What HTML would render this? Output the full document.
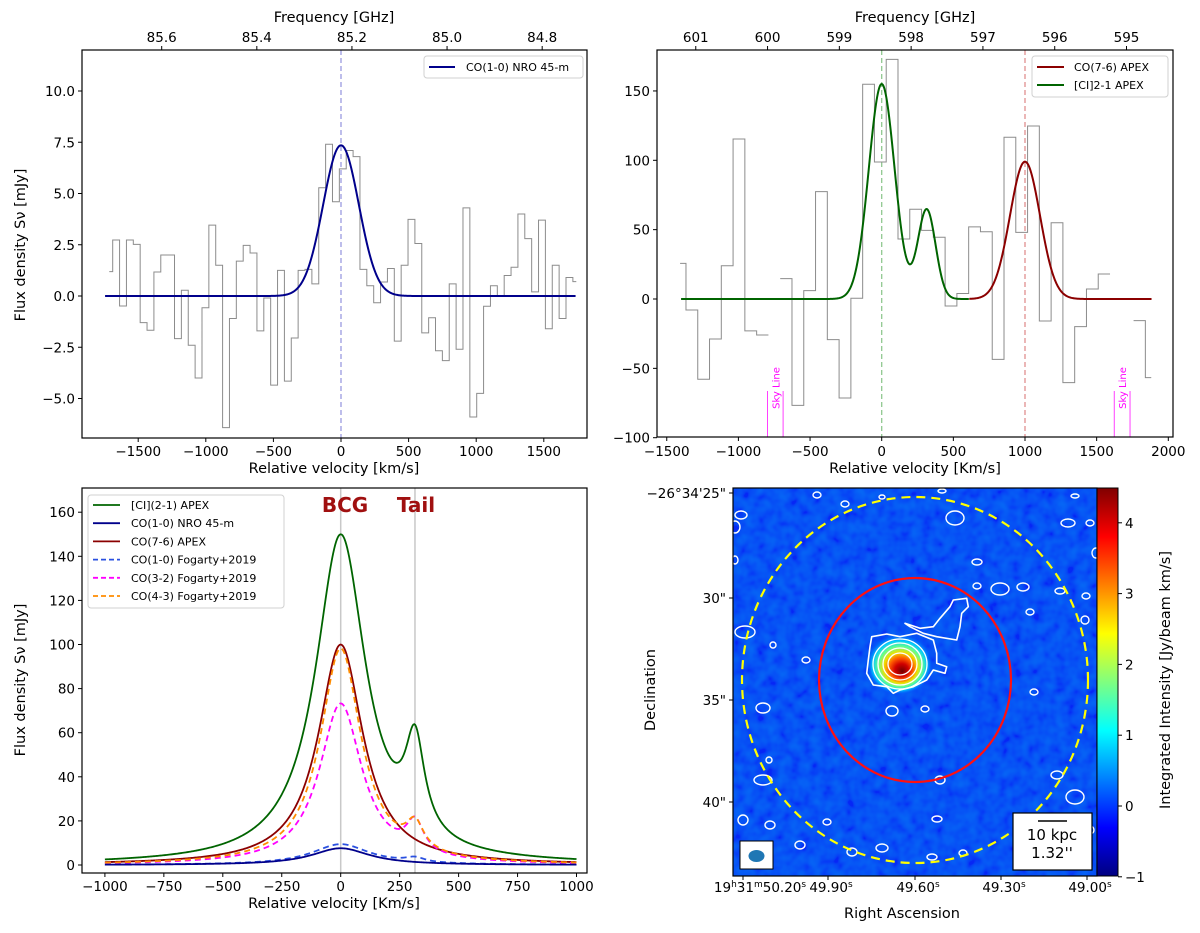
<!DOCTYPE html>
<html><head><meta charset="utf-8"><style>
html,body{margin:0;padding:0;background:#fff;}
svg{display:block;font-family:"DejaVu Sans","Liberation Sans",sans-serif;}
</style></head><body>
<svg id="fig" width="1200" height="933" viewBox="0 0 1200 933" xmlns="http://www.w3.org/2000/svg">
<defs>
<linearGradient id="jet" x1="0" y1="1" x2="0" y2="0">
<stop offset="0" stop-color="#000080"/><stop offset="0.125" stop-color="#0000ff"/><stop offset="0.375" stop-color="#00ffff"/><stop offset="0.625" stop-color="#ffff00"/><stop offset="0.875" stop-color="#ff0000"/><stop offset="1" stop-color="#800000"/>
</linearGradient>
<radialGradient id="blob" cx="0.5" cy="0.5" r="0.5" fx="0.55" fy="0.62">
<stop offset="0" stop-color="#700000"/><stop offset="0.2" stop-color="#d00000"/><stop offset="0.35" stop-color="#ff5a00"/><stop offset="0.5" stop-color="#f0e000"/><stop offset="0.65" stop-color="#60ff90"/><stop offset="0.8" stop-color="#00c8ff"/><stop offset="1" stop-color="#0038ff" stop-opacity="0"/>
</radialGradient>
<filter id="noise" x="0" y="0" width="100%" height="100%">
<feTurbulence type="fractalNoise" baseFrequency="0.09" numOctaves="2" seed="4"/>
<feColorMatrix type="matrix" values="0 0 0 0 0  0.7 0 0 0 -0.15  0 0 0 0 0.92  0 0 0 0 0.35"/>
</filter>
<clipPath id="mapclip"><rect x="733" y="488" width="364" height="388"/></clipPath>
</defs>
</svg>
<script>
// ---------- DATA ----------
// Panel A: CO(1-0) NRO 45-m spectrum (channels from -1714 km/s, step 50.8 km/s)
const specA_start = -1714;
const specA_step = 50.8;
const specA_flux = [1.19,2.73,-0.49,2.73,2.52,-1.3,-1.67,1.17,2.0,2.0,-2.08,0.28,-2.4,-4.0,-0.57,3.46,1.5,-6.42,-1.1,1.7,2.47,2.1,-1.7,-0.1,-4.35,1.25,-4.15,-2.05,1.25,1.3,0.59,5.28,7.4,4.6,6.2,7.1,6.8,1.3,0.5,-0.33,0.68,1.34,-2.2,1.5,3.74,2.56,-1.8,-1.06,-2.67,-3.15,0.59,-2.6,4.3,-5.9,-4.75,-0.5,0.5,0,1.0,1.4,4.0,2.8,0.2,3.7,-1.6,1.5,-1.1,0.9,0.7];
const fitA_amp = [7.35];
const fitA_cen = [0];
const fitA_sig = [132];
const tickA_x = [-1500,-1000,-500,0,500,1000,1500];
const tickA_y = [-5.0,-2.5,0.0,2.5,5.0,7.5,10.0];
const tickA_f = [85.6,85.4,85.2,85.0,84.8];

// Panel B: APEX spectrum (channels from -1407 km/s, step 82.2 km/s), null = masked sky line
const specB_start = -1407;
const specB_step = 82.2;
const specB_flux = [25.7,-7.9,-57.9,-28.8,24,115.4,-23,-26,null,14.7,-76.7,6,77.4,-29.3,-71.4,0.5,154.8,98.8,172.8,43.3,64.7,49.5,44.5,-5,4,52,48.5,-43.5,116.6,48,124.7,-15.9,55,-60.3,-19.9,7.2,18,null,null,-15.6,-56.7];
const fitCI_amp = [155, 64.5];
const fitCI_cen = [0, 314];
const fitCI_sig = [90, 62];
const fitCO76_amp = [99];
const fitCO76_cen = [1000];
const fitCO76_sig = [105];
const skyLines = [[-797,-688],[1623,1733]];
const tickB_x = [-1500,-1000,-500,0,500,1000,1500,2000];
const tickB_y = [-100,-50,0,50,100,150];
const tickB_f = [601,600,599,598,597,596,595];

// Panel C: line-profile models (Lorentzian components: amplitude, centre, half-width)
const modCI_amp = [149, 42]; const modCI_cen = [0, 315]; const modCI_w = [130, 49];
const modCO10_amp = [7.6]; const modCO10_cen = [0]; const modCO10_w = [150];
const modCO76_amp = [100]; const modCO76_cen = [0]; const modCO76_w = [115];
const modF10_amp = [9.4, 2.1]; const modF10_cen = [0, 315]; const modF10_w = [150, 50];
const modF32_amp = [73, 14]; const modF32_cen = [0, 315]; const modF32_w = [110, 45];
const modF43_amp = [98, 12]; const modF43_cen = [0, 315]; const modF43_w = [105, 45];
const tickC_x = [-1000,-750,-500,-250,0,250,500,750,1000];
const tickC_y = [0,20,40,60,80,100,120,140,160];

// Panel D: colorbar
const tickD_cb = [-1,0,1,2,3,4];

// ---------- HELPERS ----------
const svg = document.getElementById('fig');
const NS = 'http://www.w3.org/2000/svg';
function mk(tag, attrs, parent) {
  const e = document.createElementNS(NS, tag);
  for (const k in attrs) e.setAttribute(k, attrs[k]);
  (parent || svg).appendChild(e);
  return e;
}
function txt(s, attrs, parent) { const e = mk('text', attrs, parent); e.textContent = s; return e; }
function gauss(v, A, C, S) { let y = 0; for (let i = 0; i < A.length; i++) y += A[i] * Math.exp(-0.5 * ((v - C[i]) / S[i]) ** 2); return y; }
function lor(v, A, C, W) { let y = 0; for (let i = 0; i < A.length; i++) y += A[i] / (1 + ((v - C[i]) / W[i]) ** 2); return y; }
function curve(fn, v0, v1, X, Y) { let d = ''; for (let v = v0; v <= v1 + 0.01; v += 4) d += (d ? 'L' : 'M') + X(v).toFixed(2) + ',' + Y(fn(v)).toFixed(2); return d; }
function steps(start, step, vals, X, Y) {
  let d = ''; let pen = false; const n = vals.length;
  for (let i = 0; i < n; i++) {
    const v = vals[i];
    if (v === null) { pen = false; continue; }
    const c = start + i * step;
    const a = i === 0 ? c : c - step / 2;
    const b = i === n - 1 ? c : c + step / 2;
    d += (pen ? 'L' : 'M') + X(a).toFixed(2) + ',' + Y(v).toFixed(2) + 'L' + X(b).toFixed(2) + ',' + Y(v).toFixed(2);
    pen = true;
  }
  return d;
}
const FS = 13.5;

// ---------- PANEL A ----------
{
  const X = v => 341 + v * 0.1352, Y = s => 296 - s * 20.5;
  const L = 82, R = 587, T = 50, B = 438;
  const g = mk('g', {});
  
  
  const dl = mk('line', {x1: X(0), x2: X(0), y1: T, y2: B, stroke: '#9a9ae0', 'stroke-width': 1.3, 'stroke-dasharray': '5,3'}, g);
  
  
  const sp = mk('path', {d: steps(specA_start, specA_step, specA_flux, X, Y), fill: 'none', stroke: '#8c8c8c', 'stroke-width': 1}, g);
  
  
  const fc = mk('path', {d: curve(v => gauss(v, fitA_amp, fitA_cen, fitA_sig), -1745, 1736, X, Y), fill: 'none', stroke: '#00008b', 'stroke-width': 2}, g);
  
  
  const box = mk('rect', {x: L, y: T, width: R - L, height: B - T, fill: 'none', stroke: '#000', 'stroke-width': 1.2}, g);
  
  
  for (const t of tickA_x) {
    const tk = mk('line', {x1: X(t), x2: X(t), y1: B, y2: B + 4, stroke: '#000'}, g);
    
    
    const tl = txt(String(t).replace('-', '−'), {x: X(t), y: B + 18, 'font-size': FS, 'text-anchor': 'middle'}, g);
    
    
  }
  for (const t of tickA_y) {
    const tk = mk('line', {x1: L - 4, x2: L, y1: Y(t), y2: Y(t), stroke: '#000'}, g);
    
    
    const tl = txt(t.toFixed(1).replace('-', '−'), {x: L - 7, y: Y(t) + 5, 'font-size': FS, 'text-anchor': 'end'}, g);
    
    
  }
  const f0 = 85.223, c = 299792.458;
  for (const f of tickA_f) {
    const v = c * (f0 - f) / f0;
    const tk = mk('line', {x1: X(v), x2: X(v), y1: T - 4, y2: T, stroke: '#000'}, g);
    
    
    const tl = txt(f.toFixed(1), {x: X(v), y: T - 8, 'font-size': FS, 'text-anchor': 'middle'}, g);
    
    
  }
  const xt = txt('Relative velocity [km/s]', {x: 334, y: 473, 'font-size': 14.5, 'text-anchor': 'middle'}, g);
  
  
  const ft = txt('Frequency [GHz]', {x: 334, y: 22, 'font-size': 14.5, 'text-anchor': 'middle'}, g);
  
  
  const yt = txt('Flux density S\u03BD [mJy]', {x: 0, y: 0, 'font-size': 14.5, 'text-anchor': 'middle', transform: 'translate(25,245) rotate(-90)'}, g);
  
  
  const lg = mk('rect', {x: 424, y: 56, width: 159, height: 22, rx: 3, fill: '#fff', stroke: '#d0d0d0'}, g);
  
  
  const ll = mk('line', {x1: 429, x2: 455, y1: 67, y2: 67, stroke: '#00008b', 'stroke-width': 2}, g);
  
  
  const lt = txt('CO(1-0) NRO 45-m', {x: 466, y: 71, 'font-size': 11}, g);
  
  
}

// ---------- PANEL B ----------
{
  const X = v => 881.7 + v * 0.1433, Y = s => 299 - s * 1.387;
  const L = 657, R = 1173, T = 50, B = 437;
  const g = mk('g', {});
  
  
  const d1 = mk('line', {x1: X(0), x2: X(0), y1: T, y2: B, stroke: '#90c890', 'stroke-width': 1.3, 'stroke-dasharray': '5,3'}, g);
  
  
  const d2 = mk('line', {x1: X(1000), x2: X(1000), y1: T, y2: B, stroke: '#e09090', 'stroke-width': 1.3, 'stroke-dasharray': '5,3'}, g);
  
  
  for (const s of skyLines) {
    for (const v of s) {
      const sl = mk('line', {x1: X(v), x2: X(v), y1: 391, y2: B, stroke: '#ff40ff', 'stroke-width': 1}, g);
      
      
    }
    const cx = X((s[0] + s[1]) / 2);
    const st = txt('Sky Line', {x: 0, y: 0, 'font-size': 10, fill: '#ff00ff', 'text-anchor': 'middle', transform: 'translate(' + (cx + 4) + ',388) rotate(-90)'}, g);
    
    
  }
  const sp = mk('path', {d: steps(specB_start, specB_step, specB_flux, X, Y), fill: 'none', stroke: '#8c8c8c', 'stroke-width': 1}, g);
  
  
  const gc = mk('path', {d: curve(v => gauss(v, fitCI_amp, fitCI_cen, fitCI_sig), -1400, 611, X, Y), fill: 'none', stroke: '#006400', 'stroke-width': 2}, g);
  
  
  const rc = mk('path', {d: curve(v => gauss(v, fitCO76_amp, fitCO76_cen, fitCO76_sig), 611, 1884, X, Y), fill: 'none', stroke: '#8b0000', 'stroke-width': 2}, g);
  
  
  const box = mk('rect', {x: L, y: T, width: R - L, height: B - T, fill: 'none', stroke: '#000', 'stroke-width': 1.2}, g);
  
  
  for (const t of tickB_x) {
    const tk = mk('line', {x1: X(t), x2: X(t), y1: B, y2: B + 4, stroke: '#000'}, g);
    
    
    const tl = txt(String(t).replace('-', '−'), {x: X(t), y: B + 19, 'font-size': FS, 'text-anchor': 'middle'}, g);
    
    
  }
  for (const t of tickB_y) {
    const tk = mk('line', {x1: L - 4, x2: L, y1: Y(t), y2: Y(t), stroke: '#000'}, g);
    
    
    const tl = txt(String(t).replace('-', '−'), {x: L - 7, y: Y(t) + 5, 'font-size': FS, 'text-anchor': 'end'}, g);
    
    
  }
  const f0 = 598.41, c = 299792.458;
  for (const f of tickB_f) {
    const v = c * (f0 - f) / f0;
    const tk = mk('line', {x1: X(v), x2: X(v), y1: T - 4, y2: T, stroke: '#000'}, g);
    
    
    const tl = txt(String(f), {x: X(v), y: T - 8, 'font-size': FS, 'text-anchor': 'middle'}, g);
    
    
  }
  const xt = txt('Relative velocity [Km/s]', {x: 915, y: 473, 'font-size': 14.5, 'text-anchor': 'middle'}, g);
  
  
  const ft = txt('Frequency [GHz]', {x: 915, y: 22, 'font-size': 14.5, 'text-anchor': 'middle'}, g);
  
  
  const lg = mk('rect', {x: 1032, y: 56, width: 136, height: 41, rx: 3, fill: '#fff', stroke: '#d0d0d0'}, g);
  
  
  const l1 = mk('line', {x1: 1037, x2: 1064, y1: 67, y2: 67, stroke: '#8b0000', 'stroke-width': 2}, g);
  
  
  const t1 = txt('CO(7-6) APEX', {x: 1074, y: 71, 'font-size': 11}, g);
  
  
  const l2 = mk('line', {x1: 1037, x2: 1064, y1: 85, y2: 85, stroke: '#006400', 'stroke-width': 2}, g);
  
  
  const t2 = txt('[CI]2-1 APEX', {x: 1074, y: 89, 'font-size': 11}, g);
  
  
}

// ---------- PANEL C ----------
{
  const X = v => 340.7 + v * 0.2358, Y = s => 865 - s * 2.205;
  const L = 82, R = 587, T = 488, B = 873;
  const g = mk('g', {});
  
  
  const v1 = mk('line', {x1: X(0), x2: X(0), y1: T, y2: B, stroke: '#c8c8c8', 'stroke-width': 1.5}, g);
  
  
  const v2 = mk('line', {x1: X(315), x2: X(315), y1: T, y2: B, stroke: '#c8c8c8', 'stroke-width': 1.5}, g);
  
  
  const series = [
    ['ci21-apex-curve', modCI_amp, modCI_cen, modCI_w, '#006400', null],
    ['co76-apex-curve', modCO76_amp, modCO76_cen, modCO76_w, '#8b0000', null],
    ['co10-fogarty-curve', modF10_amp, modF10_cen, modF10_w, '#2a50e0', '6,4'],
    ['co32-fogarty-curve', modF32_amp, modF32_cen, modF32_w, '#ff00ff', '6,4'],
    ['co43-fogarty-curve', modF43_amp, modF43_cen, modF43_w, '#ff8c00', '6,4'],
    ['co10-nro-curve', modCO10_amp, modCO10_cen, modCO10_w, '#00008b', null]
  ];
  for (const s of series) {
    const attrs = {d: curve(v => lor(v, s[1], s[2], s[3]), -1000, 1000, X, Y), fill: 'none', stroke: s[4], 'stroke-width': 1.8};
    if (s[5]) attrs['stroke-dasharray'] = s[5];
    const p = mk('path', attrs, g);
    
    
  }
  const box = mk('rect', {x: L, y: T, width: R - L, height: B - T, fill: 'none', stroke: '#000', 'stroke-width': 1.2}, g);
  
  
  for (const t of tickC_x) {
    const tk = mk('line', {x1: X(t), x2: X(t), y1: B, y2: B + 4, stroke: '#000'}, g);
    
    
    const tl = txt(String(t).replace('-', '−'), {x: X(t), y: B + 18, 'font-size': FS, 'text-anchor': 'middle'}, g);
    
    
  }
  for (const t of tickC_y) {
    const tk = mk('line', {x1: L - 4, x2: L, y1: Y(t), y2: Y(t), stroke: '#000'}, g);
    
    
    const tl = txt(String(t), {x: L - 7, y: Y(t) + 5, 'font-size': FS, 'text-anchor': 'end'}, g);
    
    
  }
  const xt = txt('Relative velocity [Km/s]', {x: 334, y: 908, 'font-size': 14.5, 'text-anchor': 'middle'}, g);
  
  
  const yt = txt('Flux density S\u03BD [mJy]', {x: 0, y: 0, 'font-size': 14.5, 'text-anchor': 'middle', transform: 'translate(25,680) rotate(-90)'}, g);
  
  
  const b1 = txt('BCG', {x: 345, y: 512, 'font-size': 20, 'font-weight': 'bold', fill: '#a01010', 'text-anchor': 'middle'}, g);
  
  
  const b2 = txt('Tail', {x: 416, y: 512, 'font-size': 20, 'font-weight': 'bold', fill: '#a01010', 'text-anchor': 'middle'}, g);
  
  
  const lg = mk('rect', {x: 88, y: 495, width: 196, height: 113, rx: 3, fill: '#fff', stroke: '#d0d0d0'}, g);
  
  
  const entries = [['[CI](2-1) APEX', '#006400', null], ['CO(1-0) NRO 45-m', '#00008b', null], ['CO(7-6) APEX', '#8b0000', null], ['CO(1-0) Fogarty+2019', '#2a50e0', '5,3'], ['CO(3-2) Fogarty+2019', '#ff00ff', '5,3'], ['CO(4-3) Fogarty+2019', '#ff8c00', '5,3']];
  entries.forEach((e, i) => {
    const y = 505 + i * 18.2;
    const a = {x1: 93, x2: 120, y1: y, y2: y, stroke: e[1], 'stroke-width': 1.8};
    if (e[2]) a['stroke-dasharray'] = e[2];
    const sw = mk('line', a, g);
    
    
    const t = txt(e[0], {x: 131, y: y + 4, 'font-size': 11}, g);
    
    
  });
}

// ---------- PANEL D: map ----------
{
  const g = mk('g', {});
  
  
  const m = mk('g', {'clip-path': 'url(#mapclip)'}, g);
  const bg = mk('rect', {x: 733, y: 488, width: 364, height: 388, fill: '#0a3cf5'}, m);
  
  
  const nz = mk('rect', {x: 733, y: 488, width: 364, height: 388, filter: 'url(#noise)'}, m);
  
  
  const bl = mk('ellipse', {cx: 899, cy: 664, rx: 34, ry: 31, fill: 'url(#blob)'}, m);
  
  
  const outer = [[871.7,636.7],[886.7,634],[900,636.7],[916.7,633.3],[933.3,640],[936.7,653.3],[936.7,663.3],[946.7,666.7],[945,673.3],[933.3,670],[926.7,680],[913.3,686.7],[900,690],[893.3,693.3],[886.7,686.7],[873.3,685],[866.7,673.3],[868.3,660],[870,646.7]];
  const tail = [[905,623.3],[920,628.3],[933.3,626.7],[940,618.3],[950,606.7],[953.3,600],[966.7,598.3],[968.3,606.7],[961.7,613.3],[960,626.7],[956.7,640],[936.7,636.7],[923.3,633.3],[910,626.7]];
  for (const [nm, pts] of [['outer-contour', outer], ['tail-contour', tail]]) {
    const p = mk('path', {d: 'M' + pts.map(q => q.join(',')).join('L') + 'Z', fill: 'none', stroke: '#fff', 'stroke-width': 1.6, 'stroke-linejoin': 'round'}, m);
    
    
  }
  [[27,25],[22,21],[17,16],[12,11]].forEach(r => {
    const c = mk('ellipse', {cx: 900, cy: 664, rx: r[0], ry: r[1], fill: 'none', stroke: '#fff', 'stroke-width': 1.3}, m);
    
    
  });
  const noiseC = [[741,515,6,4],[845,504,4,3],[817,495,4,3],[882,497,3,2],[942,491,4,2],[1075,496,4,2],[955,518,9,7],[1068,523,7,4],[1090,523,4,3],[735,527,5,6],[977,562,5,3],[1096,553,4,5],[1023,587,6,4],[977,586,4,3],[1000,589,9,6],[1060,591,5,3],[1086,596,4,3],[1030,612,4,3],[745,632,10,6],[773,645,3,3],[806,660,4,3],[1034,692,4,3],[763,708,7,5],[892,711,6,5],[925,709,4,3],[769,760,3,3],[763,780,9,5],[940,780,5,4],[1057,775,6,4],[1075,797,9,7],[770,825,5,4],[827,822,4,3],[937,819,5,3],[1047,818,6,4],[743,820,5,5],[800,845,5,4],[852,852,5,4],[882,848,6,4],[932,857,5,3],[963,853,4,3],[1036,850,5,4],[1053,862,4,3],[1090,830,4,4],[1085,620,4,4],[735,560,3,4]];
  for (const c of noiseC) {
    const e = mk('ellipse', {cx: c[0], cy: c[1], rx: c[2], ry: c[3], fill: 'none', stroke: '#fff', 'stroke-width': 1.4}, m);
    
    
  }
  const rc = mk('ellipse', {cx: 915, cy: 680, rx: 96, ry: 102, fill: 'none', stroke: '#ff1010', 'stroke-width': 2.2}, m);
  
  
  const yc = mk('ellipse', {cx: 915, cy: 680, rx: 173, ry: 183, fill: 'none', stroke: '#ffff00', 'stroke-width': 2.2, 'stroke-dasharray': '9,6'}, m);
  
  
  const bb = mk('rect', {x: 740, y: 841, width: 33, height: 28, fill: '#fff', stroke: '#000', 'stroke-width': 1}, m);
  
  
  const be = mk('ellipse', {cx: 756.5, cy: 856, rx: 8, ry: 6, fill: '#1f77b4'}, m);
  
  
  const sb = mk('rect', {x: 1013, y: 813, width: 79, height: 57, fill: '#fff', stroke: '#000', 'stroke-width': 1.2}, m);
  
  
  const sl = mk('line', {x1: 1038, x2: 1067, y1: 821, y2: 821, stroke: '#000', 'stroke-width': 1.5}, m);
  
  
  const s1 = txt('10 kpc', {x: 1052, y: 840, 'font-size': 15, 'text-anchor': 'middle'}, m);
  
  
  const s2 = txt("1.32''", {x: 1052, y: 858, 'font-size': 15, 'text-anchor': 'middle'}, m);
  
  
  const fr = mk('rect', {x: 733, y: 488, width: 364, height: 388, fill: 'none', stroke: '#000', 'stroke-width': 1.2}, g);
  
  
  const decT = [["−26°34'25\"", 493], ['30"', 598], ['35"', 700], ['40"', 802]];
  for (const d of decT) {
    const tk = mk('line', {x1: 729, x2: 733, y1: d[1], y2: d[1], stroke: '#000'}, g);
    
    
    const tl = txt(d[0], {x: 726, y: d[1] + 5, 'font-size': FS, 'text-anchor': 'end'}, g);
    
    
  }
  const raT = [['19', 'h', '31', 'm', '50.20', 's', 743], ['', '', '', '', '49.90', 's', 828], ['', '', '', '', '49.60', 's', 915], ['', '', '', '', '49.30', 's', 1001], ['', '', '', '', '49.00', 's', 1087]];
  for (const r of raT) {
    const tk = mk('line', {x1: r[6], x2: r[6], y1: 876, y2: 880, stroke: '#000'}, g);
    
    
    const t = mk('text', {x: r[0] ? r[6] + 17 : r[6] + 3, y: 892, 'font-size': FS, 'text-anchor': 'middle'}, g);
    
    
    if (r[0]) {
      t.appendChild(document.createTextNode('19'));
      const a = mk('tspan', {'font-size': 9, dy: -5}, t); a.textContent = 'h';
      const b = mk('tspan', {dy: 5}, t); b.textContent = '31';
      const c2 = mk('tspan', {'font-size': 9, dy: -5}, t); c2.textContent = 'm';
      const d2 = mk('tspan', {dy: 5}, t); d2.textContent = '50.20';
    } else {
      t.appendChild(document.createTextNode(r[4]));
    }
    const s = mk('tspan', {'font-size': 9, dy: -5}, t); s.textContent = 's';
  }
  const xt = txt('Right Ascension', {x: 902, y: 918, 'font-size': 14.5, 'text-anchor': 'middle'}, g);
  
  
  const yt = txt('Declination', {x: 0, y: 0, 'font-size': 14.5, 'text-anchor': 'middle', transform: 'translate(655,690) rotate(-90)'}, g);
  
  
  const CY = v => 806 - v * 70.8;
  const cb = mk('rect', {x: 1097, y: 488, width: 21, height: 388, fill: 'url(#jet)', stroke: '#000', 'stroke-width': 1}, g);
  
  
  for (const t of tickD_cb) {
    const tk = mk('line', {x1: 1118, x2: 1122, y1: CY(t), y2: CY(t), stroke: '#000'}, g);
    
    
    const tl = txt(String(t).replace('-', '−'), {x: 1125, y: CY(t) + 5, 'font-size': FS}, g);
    
    
  }
  const ct = txt('Integrated Intensity [Jy/beam km/s]', {x: 0, y: 0, 'font-size': 14.5, 'text-anchor': 'middle', transform: 'translate(1170,680) rotate(-90)'}, g);
  
  
}
</script>
</body></html>
